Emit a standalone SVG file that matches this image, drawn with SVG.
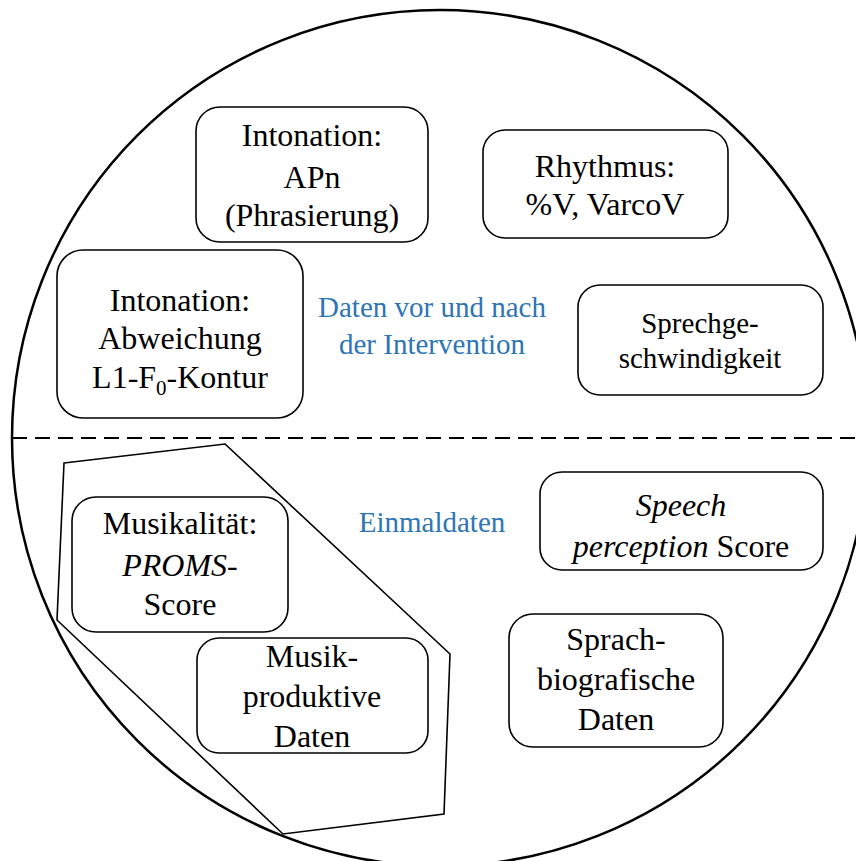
<svg xmlns="http://www.w3.org/2000/svg" width="856" height="861" viewBox="0 0 856 861">
<style>
  .box { fill: #ffffff; stroke: #000000; stroke-width: 1.6; }
  text { font-family: 'Liberation Serif', 'Times New Roman', Times, 'Noto Serif', 'DejaVu Serif', FreeSerif, serif; }
  .t { font-size: 32px; fill: #000000; text-anchor: middle; }
  .b { font-size: 29px; fill: #2e75b6; text-anchor: middle; }
  .i { font-style: italic; }
</style>
<rect x="0" y="0" width="856" height="861" fill="#ffffff"/>
<g id="frame">
  <circle cx="440" cy="438" r="428" fill="none" stroke="#000" stroke-width="2.5"/>
  <line x1="12" y1="438" x2="856" y2="438" stroke="#000" stroke-width="2" stroke-dasharray="15 8"/>
  <polygon points="64,463 225,444 450,654 444,814 283,834 57,620" fill="none" stroke="#000" stroke-width="1.6"/>
</g>
<g id="label-vor-nach">
  <text class="b" x="432" y="317">Daten vor und nach</text>
  <text class="b" x="432" y="354">der Intervention</text>
</g>
<g id="label-einmal">
  <text class="b" x="432" y="532">Einmaldaten</text>
</g>
<g id="n-apn">
  <rect class="box" x="196" y="107" width="232" height="135" rx="24"/>
  <text class="t" x="312" y="146">Intonation:</text>
  <text class="t" x="312" y="188">APn</text>
  <text class="t" x="312" y="226">(Phrasierung)</text>
</g>
<g id="n-rhythmus">
  <rect class="box" x="483" y="130" width="245" height="108" rx="22"/>
  <text class="t" x="605" y="177">Rhythmus:</text>
  <text class="t" x="605" y="215">%V, VarcoV</text>
</g>
<g id="n-abweichung">
  <rect class="box" x="57" y="250" width="246" height="168" rx="26"/>
  <text class="t" x="180" y="311">Intonation:</text>
  <text class="t" x="180" y="349">Abweichung</text>
  <text class="t" x="180" y="388">L1-F<tspan font-size="21" dy="7">0</tspan><tspan dy="-7">-Kontur</tspan></text>
</g>
<g id="n-sprechgeschwindigkeit">
  <rect class="box" x="578" y="285" width="245" height="110" rx="22"/>
  <text class="t" x="700" y="333" style="font-size:29px">Sprechge-</text>
  <text class="t" x="700" y="368" style="font-size:29px">schwindigkeit</text>
</g>
<g id="n-speech">
  <rect class="box" x="540" y="472" width="283" height="98" rx="22"/>
  <text class="t i" x="681" y="516">Speech</text>
  <text class="t" x="681" y="557"><tspan class="i">perception</tspan> Score</text>
</g>
<g id="n-musikalitaet">
  <rect class="box" x="72" y="497" width="216" height="135" rx="24"/>
  <text class="t" x="180" y="534">Musikalität:</text>
  <text class="t" x="180" y="576"><tspan class="i">PROMS</tspan>-</text>
  <text class="t" x="180" y="615">Score</text>
</g>
<g id="n-musikproduktiv">
  <rect class="box" x="197" y="638" width="231" height="115" rx="22"/>
  <text class="t" x="312" y="667">Musik-</text>
  <text class="t" x="312" y="707">produktive</text>
  <text class="t" x="312" y="747">Daten</text>
</g>
<g id="n-sprachbiografisch">
  <rect class="box" x="509" y="614" width="214" height="133" rx="24"/>
  <text class="t" x="616" y="650">Sprach-</text>
  <text class="t" x="616" y="690">biografische</text>
  <text class="t" x="616" y="730">Daten</text>
</g>
</svg>
